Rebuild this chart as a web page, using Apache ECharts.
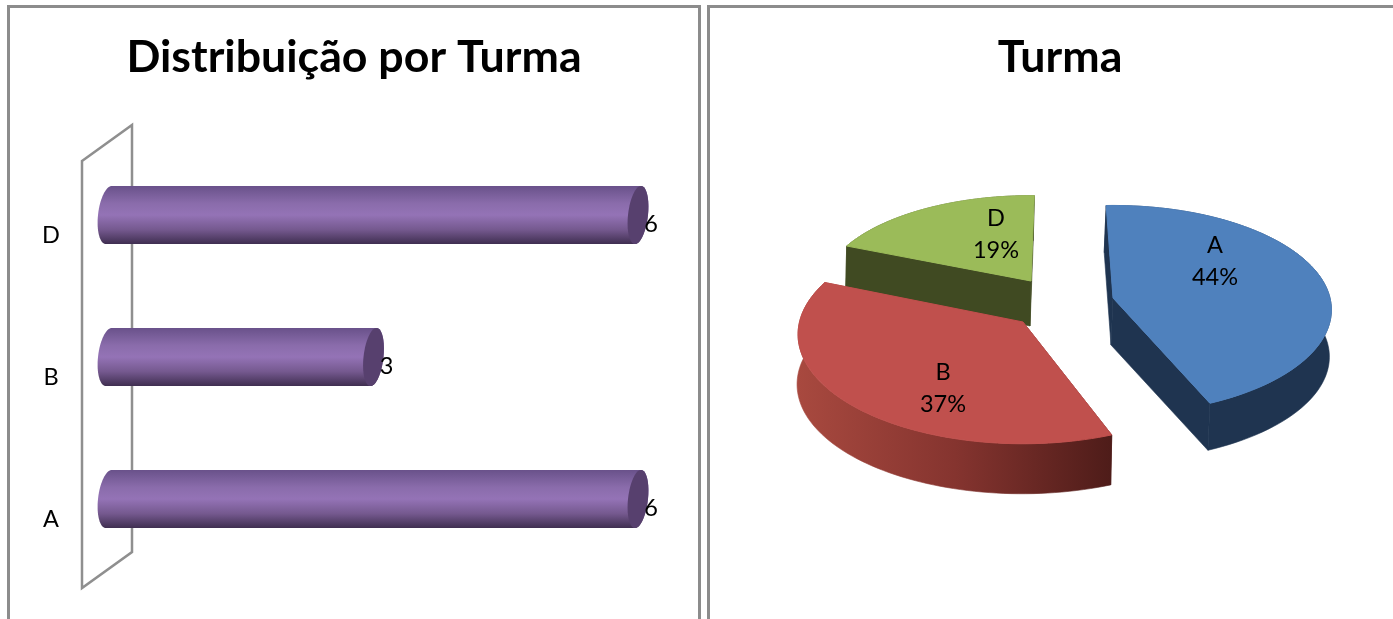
<!DOCTYPE html>
<html>
<head>
<meta charset="utf-8">
<style>
    html, body { margin: 0; padding: 0; background: #fff; }
    #chart { width: 1393px; height: 619px; }
</style>
<script src="https://cdn.jsdelivr.net/npm/echarts@6/dist/echarts.min.js"></script>
</head>
<body>
<div id="chart"></div>
<script>
    const barCategories = ['A', 'B', 'D'];
    const barValues = [6, 3, 6];
    const pieNames = ['A', 'B', 'D'];
    const pieShares = [44, 37, 19];

    const FONT = 'Lato';
    const FRAME = '#8c8c8c';
    const LABEL_SIZE = 23.5;

    // exploded slice layout, one entry per pie slice
    const sliceLayout = [
        { cx: 1113, cy: 298, sx: 1, sy: 1.03, turn: -2, depth: [-2, 47], top: '#4f81bd', wall: '#1f3450', z: 10, label: [102, -37] },
        { cx: 1023, cy: 322, sx: 1.03, sy: 1.08, turn: 0.8, depth: [-1, 50], top: '#c0504d', wall: null, z: 10, label: [-80, 66] },
        { cx: 1031, cy: 281, sx: 0.96, sy: 0.95, turn: 1, depth: [-1, 45], top: '#9bbb59', wall: '#404a22', z: 0, label: [-35, -47] }
    ];
    const PIE_R = 217, PIE_R_Y = 100, PIE_K = 0.113;

    function project (s, theta) {
        const c = Math.cos(theta);
        const p = 1 / (1 + PIE_K * c);
        return [s.cx + PIE_R * s.sx * Math.sin(theta) * p, s.cy - PIE_R_Y * s.sy * c * p];
    }

    function shift (pt, d) {
        return [pt[0] + d[0], pt[1] + d[1]];
    }

    function renderSlice (params, api) {
        const i = params.dataIndex;
        const s = sliceLayout[i];
        let total = 0, before = 0;
        pieShares.forEach((v, k) => {
            total += v;
            if (k < i) before += v;
        });
        const turn = s.turn * Math.PI / 180;
        const a0 = before / total * Math.PI * 2 + turn;
        const a1 = (before + api.value(0)) / total * Math.PI * 2 + turn;
        const arc = [];
        for (let n = 0; n <= 80; n++) {
            arc.push(project(s, a0 + (a1 - a0) * n / 80));
        }
        const apex = [s.cx, s.cy];
        const first = arc[0], last = arc[arc.length - 1];
        const wallFill = s.wall || new echarts.graphic.LinearGradient(798, 0, 1112, 0, [
            { offset: 0, color: '#a8493f' },
            { offset: 0.5, color: '#85342f' },
            { offset: 1, color: '#4e1c19' }
        ], true);
        const walls = [
            arc.concat(arc.map(p => shift(p, s.depth)).reverse()),
            [apex, first, shift(first, s.depth), shift(apex, s.depth)],
            [apex, last, shift(last, s.depth), shift(apex, s.depth)]
        ];
        const children = walls.map(points => ({
            type: 'polygon',
            z2: s.z,
            shape: { points: points },
            style: { fill: wallFill, stroke: wallFill, lineWidth: 0.6 }
        }));
        children.push({
            type: 'polygon',
            z2: s.z + 1,
            shape: { points: [apex].concat(arc) },
            style: { fill: s.top, stroke: s.top, lineWidth: 1 }
        });
        children.push({
            type: 'text',
            z2: s.z + 2,
            style: {
                x: s.cx + s.label[0],
                y: s.cy + s.label[1],
                text: pieNames[i] + '\n' + api.value(0) + '%',
                font: LABEL_SIZE + 'px ' + FONT,
                lineHeight: 32,
                fill: '#000',
                align: 'center',
                verticalAlign: 'middle'
            }
        });
        return { type: 'group', children: children };
    }

    function ellipsePoints (cx, cy, rx, ry, lean, from, to) {
        const pts = [];
        for (let n = 0; n <= 40; n++) {
            const t = from + (to - from) * n / 40;
            pts.push([cx + rx * Math.cos(t) - lean * Math.sin(t), cy + ry * Math.sin(t)]);
        }
        return pts;
    }

    function renderBar (params, api) {
        const start = api.coord([0, api.value(1)]);
        const end = api.coord([api.value(0), api.value(1)]);
        const ry = api.size([0, 1])[1] * 0.205;
        const rx = 11, lean = 3;
        const back = ellipsePoints(start[0], start[1], rx, ry, lean, Math.PI * 1.5, Math.PI * 0.5);
        const front = ellipsePoints(end[0], end[1], rx - 1, ry, lean, Math.PI * 0.5, -Math.PI * 0.5);
        const cap = ellipsePoints(end[0], end[1], rx - 1, ry, lean, 0, Math.PI * 2);
        return {
            type: 'group',
            children: [
                {
                    type: 'polygon',
                    shape: { points: back.concat(front) },
                    style: {
                        fill: new echarts.graphic.LinearGradient(0, 0, 0, 1, [
                            { offset: 0, color: '#69518a' },
                            { offset: 0.3, color: '#8a6cab' },
                            { offset: 0.5, color: '#9473b6' },
                            { offset: 0.75, color: '#75598f' },
                            { offset: 1, color: '#3f2e50' }
                        ])
                    }
                },
                {
                    type: 'polygon',
                    shape: { points: cap },
                    style: { fill: '#57406e' }
                },
                {
                    type: 'text',
                    style: {
                        x: end[0] + 13,
                        y: end[1] + 9,
                        text: String(api.value(0)),
                        font: LABEL_SIZE + 'px ' + FONT,
                        fill: '#000',
                        align: 'center',
                        verticalAlign: 'middle'
                    }
                }
            ]
        };
    }

    function renderWall (params) {
        const g = params.coordSys;
        const left = g.x - 27, right = g.x + 23;
        return {
            type: 'polygon',
            shape: {
                points: [
                    [left, g.y + 17],
                    [right, g.y - 19],
                    [right, g.y + g.height - 18],
                    [left, g.y + g.height + 18]
                ]
            },
            style: { fill: 'none', stroke: '#8f8f8f', lineWidth: 2.5 }
        };
    }

    const chart = echarts.init(document.getElementById('chart'), null, { renderer: 'canvas' });
    chart.setOption({
        animation: false,
        backgroundColor: '#fff',
        title: [
            {
                text: 'Distribuição por Turma',
                left: 354,
                top: 35,
                padding: 0,
                textAlign: 'center',
                textStyle: { fontFamily: FONT, fontSize: 44.7, fontWeight: 'bold', color: '#000' }
            },
            {
                text: 'Turma',
                left: 1060,
                top: 35,
                padding: 0,
                textAlign: 'center',
                textStyle: { fontFamily: FONT, fontSize: 44.7, fontWeight: 'bold', color: '#000' }
            }
        ],
        grid: { left: 109, top: 144, width: 529, height: 426, containLabel: false },
        xAxis: { type: 'value', min: 0, max: 6, show: false },
        yAxis: {
            type: 'category',
            data: barCategories,
            axisLine: { show: false },
            axisTick: { show: false },
            splitLine: { show: false },
            axisLabel: {
                margin: 58,
                align: 'center',
                verticalAlign: 'top',
                padding: [8, 0, 0, 0],
                fontFamily: FONT,
                fontSize: LABEL_SIZE,
                color: '#000'
            }
        },
        graphic: [
            {
                type: 'polyline',
                silent: true,
                shape: { points: [[8.5, 619], [8.5, 6.5], [699.5, 6.5], [699.5, 619]] },
                style: { fill: 'none', stroke: FRAME, lineWidth: 3 }
            },
            {
                type: 'polyline',
                silent: true,
                shape: { points: [[708.5, 619], [708.5, 6.5], [1393, 6.5]] },
                style: { fill: 'none', stroke: FRAME, lineWidth: 3 }
            }
        ],
        series: [
            {
                type: 'custom',
                coordinateSystem: 'cartesian2d',
                renderItem: renderWall,
                silent: true,
                z: 1,
                data: [[0, 0]],
                encode: { x: 0, y: 1 }
            },
            {
                type: 'custom',
                coordinateSystem: 'cartesian2d',
                renderItem: renderBar,
                clip: false,
                z: 2,
                data: barValues.map((v, i) => [v, i]),
                encode: { x: 0, y: 1 }
            },
            {
                type: 'custom',
                coordinateSystem: 'none',
                renderItem: renderSlice,
                z: 2,
                data: pieShares.map(v => [v])
            }
        ]
    });
</script>
</body>
</html>
